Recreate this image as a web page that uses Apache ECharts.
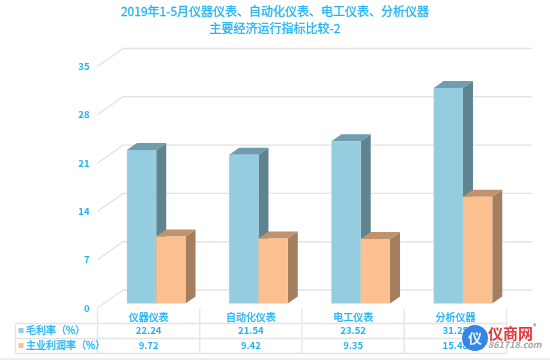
<!DOCTYPE html>
<html><head><meta charset="utf-8">
<style>html,body{margin:0;padding:0;background:#fff}#c{width:550px;height:360px}</style>
<script src="https://cdn.jsdelivr.net/npm/echarts@6/dist/echarts.min.js"></script>
</head><body><div id="c"></div>
<script>
const titleLines = ['2019年1-5月仪器仪表、自动化仪表、电工仪表、分析仪器', '主要经济运行指标比较-2'];
const categories = ['仪器仪表', '自动化仪表', '电工仪表', '分析仪器'];
const seriesNames = ['毛利率（%）', '主业利润率（%）'];
const grossMargin = [22.24, 21.54, 23.52, 31.25];
const profitMargin = [9.72, 9.42, 9.35, 15.48];
const yTicks = [0, 7, 14, 21, 28, 35];

const TXT = '#22b4f2', LINE = '#e4e4e4', FONT = '"Noto Sans CJK SC","Noto Sans",sans-serif';
const L = 97.5, R = 506.5, T = 66.5, B = 308, W = R - L;
const DX = 25.5, DY = -18;
const colW = W / categories.length;
const styles = [
  {front:'#93cddf', top:'#6f9dad', side:'#5f848f'},
  {front:'#fac08f', top:'#c0936c', side:'#a37f5f'}
];
function wallItem(p, api) {
  const v = api.value(0);
  const a = api.coord([0, v]);
  const x0 = L, y0 = a[1];
  const s = {stroke: LINE, lineWidth: 1.4, fill: null};
  return {type:'group', silent:true, children:[
    {type:'polyline', shape:{points:[[x0,y0],[x0+DX,y0+DY],[x0+DX+W,y0+DY]]}, style:s}
  ]};
}
function barItem(sIdx) {
  return function(p, api) {
    const c = api.coord([api.value(0), 0]);
    const t = api.coord([api.value(0), api.value(1)]);
    const bw = 29.3, off = 7.6, lift = -4.5;
    const xl = c[0] + off + (sIdx === 0 ? -bw : 0), xr = xl + bw;
    const yb = c[1] + lift, yt = t[1] + lift;
    const st = styles[sIdx], dx = 10, dy = -7;
    return {type:'group', children:[
      {type:'polygon', shape:{points:[[xr,yb],[xr+dx,yb+dy],[xr+dx,yt+dy],[xr,yt]]}, style:{fill:st.side}},
      {type:'polygon', shape:{points:[[xl,yt],[xl+dx,yt+dy],[xr+dx,yt+dy],[xr,yt]]}, style:{fill:st.top}},
      {type:'rect', shape:{x:xl,y:yt,width:bw,height:yb-yt}, style:{fill:st.front}}
    ]};
  };
}
// data table
const tX0 = 15.5, rowY = [323.5, 338.5, 353.5], headTop = 309;
const tg = [];
const ln = (x1,y1,x2,y2) => tg.push({type:'line', silent:true, shape:{x1,y1,x2,y2}, style:{stroke:LINE, lineWidth:1.3}});
rowY.forEach(y => ln(tX0, y, R, y));
ln(tX0, rowY[0], tX0, rowY[2]);
for (let i = 0; i <= categories.length; i++) ln(L + i*colW, headTop, L + i*colW, rowY[2]);
const rows = [grossMargin, profitMargin];
const thick = {stroke:TXT, lineWidth:0.3};
rows.forEach((vals, r) => {
  const cy = r === 0 ? 330.5 : 345.5;
  tg.push({type:'rect', silent:true, shape:{x:18.5, y:cy-2.5, width:5, height:5}, style:{fill:styles[r].front}});
  tg.push({type:'text', silent:true, x:26, y:cy, style:{text:seriesNames[r], fill:TXT, font:'10px '+FONT, verticalAlign:'middle', align:'left', ...thick}});
  vals.forEach((v,i) => tg.push({type:'text', silent:true, x:L+(i+.5)*colW, y:cy, style:{text:v.toFixed(2), fill:TXT, font:'bold 9.5px '+FONT, align:'center', verticalAlign:'middle'}}));
});
// title
titleLines.forEach((t,i) => tg.push({type:'text', silent:true, x:275, y:11+i*17.5, style:{text:t, fill:TXT, font:'12px '+FONT, align:'center', verticalAlign:'middle', ...thick}}));
// watermark
tg.push({type:'circle', silent:true, z:50, shape:{cx:475,cy:338,r:13}, style:{fill:'#2a7fe6', opacity:0.95}});
tg.push({type:'text', silent:true, z:51, x:475, y:338, style:{text:'仪', fill:'#e8f2fd', font:'bold 14px '+FONT, align:'center', verticalAlign:'middle'}});
tg.push({type:'text', silent:true, z:51, x:488, y:333.5, style:{text:'仪商网', fill:'#e2383a', font:'bold 15px '+FONT, align:'left', verticalAlign:'middle'}});
tg.push({type:'text', silent:true, z:51, x:488, y:344.5, style:{text:'861718.com', fill:'#a2a2a2', font:'italic bold 9px '+FONT, align:'left', verticalAlign:'middle'}});
tg.push({type:'text', silent:true, z:51, x:533, y:326, style:{text:'®', fill:'#e2383a', font:'7px '+FONT, align:'left', verticalAlign:'middle'}});
tg.push({type:'rect', silent:true, shape:{x:0,y:358,width:550,height:2}, style:{fill:'#eeeeee'}});

const chart = echarts.init(document.getElementById('c'), null, {renderer:'canvas'});
chart.setOption({
  animation:false, backgroundColor:'#fff',
  grid:{left:L, width:W, top:T, height:B-T},
  xAxis:{type:'category', data:categories, axisLine:{show:false}, axisTick:{show:false},
    axisLabel:{color:TXT, fontSize:10, fontFamily:FONT, margin:4, textBorderColor:TXT, textBorderWidth:0.3}, splitLine:{show:false}},
  yAxis:{type:'value', min:0, max:35, interval:7, axisLine:{show:false}, axisTick:{show:false},
    splitLine:{show:false}, axisLabel:{color:TXT, fontSize:9.5, fontWeight:'bold', fontFamily:FONT, margin:8}},
  graphic:tg,
  series:[
    {type:'custom', name:'wall', silent:true, z:1, renderItem:wallItem, data:yTicks.map(v=>[v]), encode:{y:0}, clip:false},
    {type:'custom', name:seriesNames[0], z:3, renderItem:barItem(0), data:grossMargin.map((v,i)=>[i,v]), encode:{x:0,y:1}, clip:false},
    {type:'custom', name:seriesNames[1], z:3, renderItem:barItem(1), data:profitMargin.map((v,i)=>[i,v]), encode:{x:0,y:1}, clip:false}
  ]
});
</script></body></html>
